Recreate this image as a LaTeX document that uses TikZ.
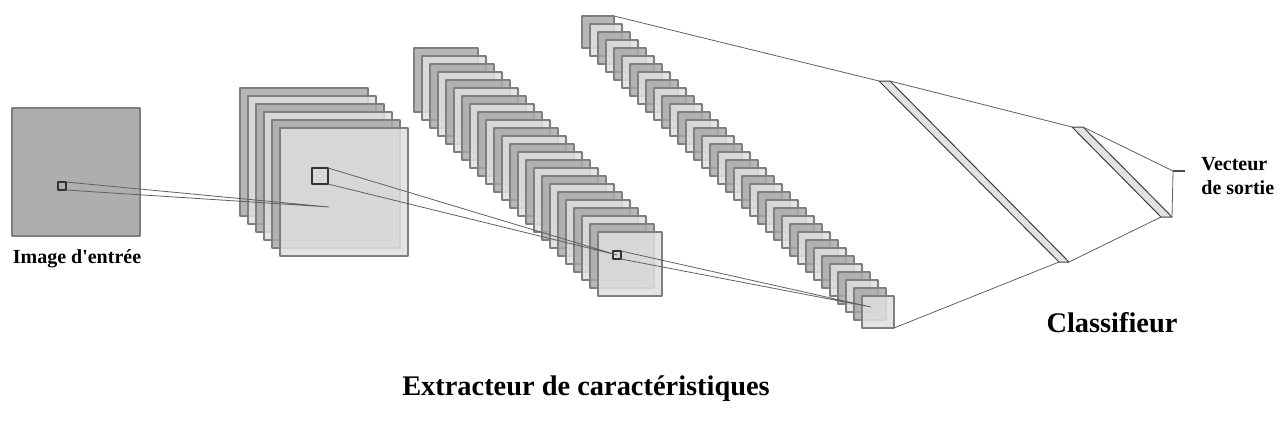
\documentclass[tikz,border=0pt]{standalone}
\usepackage{fontspec}
\setmainfont{Liberation Serif}[Ligatures=TeXOff]
\usetikzlibrary{positioning}
\definecolor{map0}{HTML}{AAAAAA}
\definecolor{map1}{HTML}{DFDFDF}
\definecolor{MapEdge}{HTML}{7F7F7F}
\definecolor{LinkGray}{HTML}{606060}
\definecolor{DenseFill}{HTML}{E2E2E2}

\begin{document}
\begin{tikzpicture}[x=0.5pt,y=-0.5pt,line cap=round,line join=round,
  fmap/.style={draw=MapEdge,line width=0.8pt,fill opacity=0.85},
  patch/.style={draw=black!80,line width=0.6pt,inner sep=0pt,outer sep=0pt,minimum size=#1},
  link/.style={draw=LinkGray,line width=0.4pt},
  dense/.style={draw=black!75,line width=0.5pt,fill=DenseFill},
  label/.style={font=\bfseries,inner sep=0pt}]
  \useasboundingbox (0,0) rectangle (1284,428);

  % input image
  \draw[fmap,fill=map0!95!white,fill opacity=1] (12,108) rectangle (140,236);
  \node[patch=4pt] (p0) at (62,186) {};

  % feature maps
  \foreach \i [evaluate=\i as \c using {int(mod(\i,2))}] in {0,...,5}
    \draw[fmap,fill=map\c] (240+8*\i,88+8*\i) rectangle +(128,128);
  \node[patch=8pt] (p1) at (320,176) {};

  \foreach \i [evaluate=\i as \c using {int(mod(\i,2))}] in {0,...,23}
    \draw[fmap,fill=map\c] (414+8*\i,48+8*\i) rectangle +(64,64);
  \node[patch=4pt] (p2) at (617,255) {};

  \foreach \i [evaluate=\i as \c using {int(mod(\i,2))}] in {0,...,35}
    \draw[fmap,fill=map\c] (582+8*\i,16+8*\i) rectangle +(32,32);
  \coordinate (m3a) at (614,16);
  \coordinate (m3b) at (894,328);

  % receptive fields
  \coordinate (e1) at (329,207);
  \coordinate (e3) at (871,307);
  \draw[link] (p0.north east) -- (e1) -- (p0.south east);
  \draw[link] (p1.north east) -- (p2.center) -- (p1.south east);
  \draw[link] (p2.north east) -- (e3) -- (p2.south east);

  % classifier
  \coordinate (f1a) at (879,81);  \coordinate (f1b) at (890,81);
  \coordinate (f1c) at (1069,262); \coordinate (f1d) at (1059,262);
  \coordinate (f2a) at (1072,127); \coordinate (f2b) at (1083,127);
  \coordinate (f2c) at (1172,217); \coordinate (f2d) at (1161,217);
  \coordinate (outa) at (1173,171); \coordinate (outb) at (1185,171);

  \draw[dense] (f1a) -- (f1b) -- (f1c) -- (f1d) -- cycle;
  \draw[dense] (f2a) -- (f2b) -- (f2c) -- (f2d) -- cycle;
  \draw[link] (m3a) -- (f1a) (m3b) -- (f1d);
  \draw[link] (f1b) -- (f2a) (f1c) -- (f2d);
  \draw[link] (f2b) -- (outa) (f2c) -- (outa);
  \draw[black!70,line width=1pt,line cap=butt] (outa) -- (outb);

  \node[label,font=\bfseries\fontsize{10}{12}\selectfont] (inlbl) at (77,259) {Image d'entrée};
  \node[label,font=\bfseries\fontsize{14.2}{16}\selectfont] (featlbl) at (586,389) {Extracteur de caractéristiques};
  \node[label,font=\bfseries\fontsize{14.2}{16}\selectfont] (clslbl) at (1112,323) {Classifieur};
  \node[label,font=\bfseries\fontsize{10}{12}\selectfont,align=left,anchor=west] (outlbl) at (1201,176) {Vecteur\\de sortie};
\end{tikzpicture}
\end{document}
